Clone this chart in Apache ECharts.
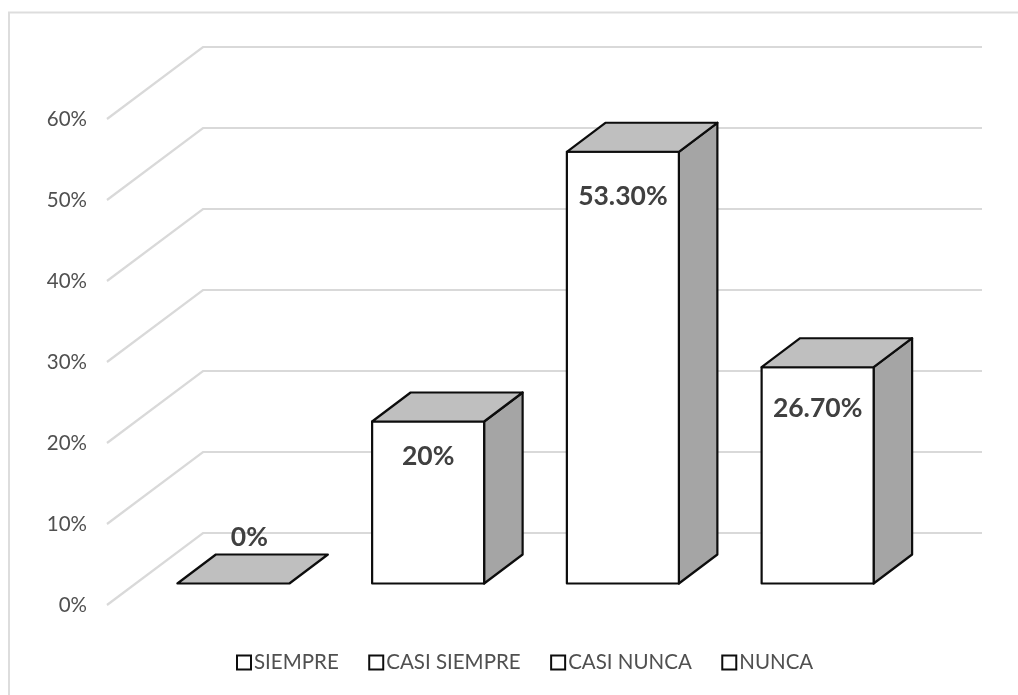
<!DOCTYPE html>
<html>
<head>
<meta charset="utf-8">
<style>html,body{margin:0;padding:0;background:#fff}#c{width:1018px;height:695px}</style>
<script src="https://cdn.jsdelivr.net/npm/echarts@6/dist/echarts.min.js"></script>
</head>
<body>
<div id="c"></div>
<script>
const categories = ['SIEMPRE', 'CASI SIEMPRE', 'CASI NUNCA', 'NUNCA'];
const values = [0, 20, 53.3, 26.7];
const valueLabels = ['0%', '20%', '53.30%', '26.70%'];
const yTicks = [0, 10, 20, 30, 40, 50, 60];

const FONT = 'Lato, "Open Sans", sans-serif';
// room depth (wall) and bar depth, in pixels
const WALL = [96, -72], BAR_FRONT = [29, -21.5], BAR_DEPTH = [38.5, -29], BAR_W = 112, WALL_RIGHT = 779;
// hand-placed labels: offset of the text centre from the bar's front top centre
const labelNudge = [[16, -46], [0, 35], [0, 45], [0, 41]];

const chart = echarts.init(document.getElementById('c'), null, {renderer: 'canvas'});

function wallItem(params, api) {
  const y = api.coord([0, api.value(0)])[1];
  const left = params.coordSys.x;
  return {
    type: 'polyline',
    shape: {points: [[left, y], [left + WALL[0], y + WALL[1]], [left + WALL[0] + WALL_RIGHT, y + WALL[1]]]},
    style: {fill: null, stroke: '#d9d9d9', lineWidth: 2.2}
  };
}

function barItem(params, api) {
  const idx = api.value(0), val = api.value(1);
  const top = api.coord([idx, val]), base = api.coord([idx, 0]);
  const cx = top[0] + BAR_FRONT[0];
  const yt = top[1] + BAR_FRONT[1], yb = base[1] + BAR_FRONT[1];
  const l = cx - BAR_W / 2, r = cx + BAR_W / 2;
  const dx = BAR_DEPTH[0], dy = BAR_DEPTH[1];
  const line = {stroke: '#0d0d0d', lineWidth: 2.2, lineJoin: 'round'};
  const children = [];
  if (val > 0) {
    children.push({type: 'polygon', shape: {points: [[r, yt], [r + dx, yt + dy], [r + dx, yb + dy], [r, yb]]},
      style: Object.assign({fill: '#a5a5a5'}, line)});
    children.push({type: 'rect', shape: {x: l, y: yt, width: BAR_W, height: yb - yt},
      style: Object.assign({fill: '#ffffff'}, line)});
  }
  children.push({type: 'polygon', shape: {points: [[l, yt], [l + dx, yt + dy], [r + dx, yt + dy], [r, yt]]},
    style: Object.assign({fill: '#bfbfbf'}, line)});
  const n = labelNudge[idx];
  children.push({type: 'text', z2: 10, style: {
    x: cx + n[0], y: yt + n[1], text: valueLabels[idx], align: 'center', verticalAlign: 'middle',
    fill: '#404040', font: 'bold 26.5px ' + FONT}});
  return {type: 'group', children};
}

const series = [{
  type: 'custom', name: 'walls', silent: true, z: 1,
  coordinateSystem: 'cartesian2d',
  data: yTicks.map(t => [t]),
  encode: {y: 0},
  renderItem: wallItem
}];
categories.forEach((c, i) => series.push({
  type: 'custom', name: c, z: 2, coordinateSystem: 'cartesian2d',
  data: [[i, values[i]]],
  encode: {x: 0, y: 1},
  renderItem: barItem
}));

chart.setOption({
  animation: false,
  backgroundColor: '#ffffff',
  textStyle: {fontFamily: FONT},
  grid: {left: 107, top: 119, width: 779, height: 486, containLabel: false},
  xAxis: {type: 'category', data: categories, show: false},
  yAxis: {
    type: 'value', min: 0, max: 60, interval: 10,
    axisLine: {show: false}, axisTick: {show: false}, splitLine: {show: false},
    axisLabel: {formatter: '{value}%', color: '#505050', fontSize: 20.5, margin: 20, fontFamily: FONT, padding: [4, 0, 0, 0]}
  },
  legend: {
    data: categories, left: 231, top: 647, itemWidth: 14, itemHeight: 14, itemGap: 29.5,
    icon: 'rect',
    itemStyle: {color: '#ffffff', borderColor: '#0d0d0d', borderWidth: 2},
    textStyle: {color: '#505050', fontSize: 20.5, fontFamily: FONT, padding: [0, 0, 0, -2]}
  },
  graphic: [{type: 'polyline', silent: true, z: -1, shape: {points: [[9, 695], [9, 12.5], [1018, 12.5]]},
    style: {fill: null, stroke: '#dddddd', lineWidth: 2}}],
  series
});
</script>
</body>
</html>
